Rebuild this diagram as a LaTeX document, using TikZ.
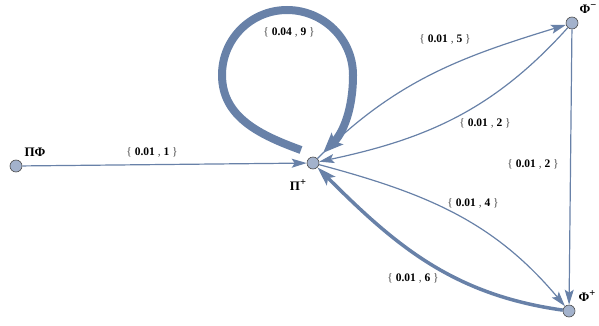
\documentclass[tikz,border=0pt]{standalone}
\usepackage{fontspec}
\setmainfont{Liberation Serif}
\usetikzlibrary{arrows.meta, positioning}
\definecolor{edgeblue}{RGB}{104,129,168}
\definecolor{vertexfill}{RGB}{163,178,204}
\newcommand{\wlabel}[2]{{\color{black!70}\{} \textbf{#1} {\color{black!70},} \textbf{#2} {\color{black!70}\}}}
\newcommand{\supsign}[1]{\raisebox{0.4em}{\fontsize{10.5}{10}\selectfont #1}}

\begin{document}
\begin{tikzpicture}[x=1pt, y=1pt,
                    vertex/.style={circle, draw=black!70, fill=vertexfill, line width=0.6pt,
                                   minimum size=12pt, inner sep=0pt},
                    vname/.style={font=\fontsize{13}{14}\selectfont\bfseries},
                    wtext/.style={font=\fontsize{11.5}{13}\selectfont},
                    link/.style={draw=edgeblue, line width=1.2pt,
                                 -{Stealth[length=15pt, width=9pt, inset=3pt]}},
                    heavy/.style={draw=edgeblue, line width=3.5pt,
                                  -{Stealth[length=19pt, width=12pt, inset=4pt]}},
                    huge/.style={draw=edgeblue, line width=8pt,
                                 -{Stealth[length=20pt, width=16pt, inset=4pt]}}]
      \useasboundingbox (0,0) rectangle (599,325);

      % Vertices
      \node (pf) [vertex] at (16,159) {};
      \node (pp) [vertex] at (313,162) {};
      \node (fm) [vertex] at (572,302) {};
      \node (fp) [vertex] at (569,14) {};
      \node (pfname) [vname] at (35,173) {ΠΦ};
      \node (ppname) [vname] at (298,140) {Π\supsign{+}};
      \node (fmname) [vname] at (588,316) {Φ\supsign{−}};
      \node (fpname) [vname] at (587,29) {Φ\supsign{+}};

      % Self loop on Pi+ (the tail stops short of the vertex)
      \coordinate (looptail) at (301,175);
      \coordinate (loopleft) at (222,250);
      \coordinate (looptop) at (287,315);
      \coordinate (loopright) at (353,250);
      \draw[huge, shorten >=8pt] (looptail) to[out=160, in=270] (loopleft)
                                 to[out=90, in=180] (looptop)
                                 to[out=0, in=90] (loopright)
                                 to[out=270, in=45] (pp);

      % Edges
      \draw[link] (pf) -- (pp);
      \draw[link] (pp) to[out=45, in=197] (fm);
      \draw[link] (fm) to[out=228, in=12] (pp);
      \draw[link] (fm) -- (fp);
      \draw[link] (pp) to[out=-15, in=130] (fp);
      \draw[heavy] (fp) to[out=172, in=-45] (pp);

      % Weights
      \node (w1) [wtext] at (152,173) {\wlabel{0.01}{1}};
      \node (w9) [wtext] at (289,293) {\wlabel{0.04}{9}};
      \node (w5) [wtext] at (445,286) {\wlabel{0.01}{5}};
      \node (w2a) [wtext] at (485,202) {\wlabel{0.01}{2}};
      \node (w2b) [wtext] at (533,161) {\wlabel{0.01}{2}};
      \node (w4) [wtext] at (473,122) {\wlabel{0.01}{4}};
      \node (w6) [wtext] at (413,47) {\wlabel{0.01}{6}};
    \end{tikzpicture}
\end{document}
